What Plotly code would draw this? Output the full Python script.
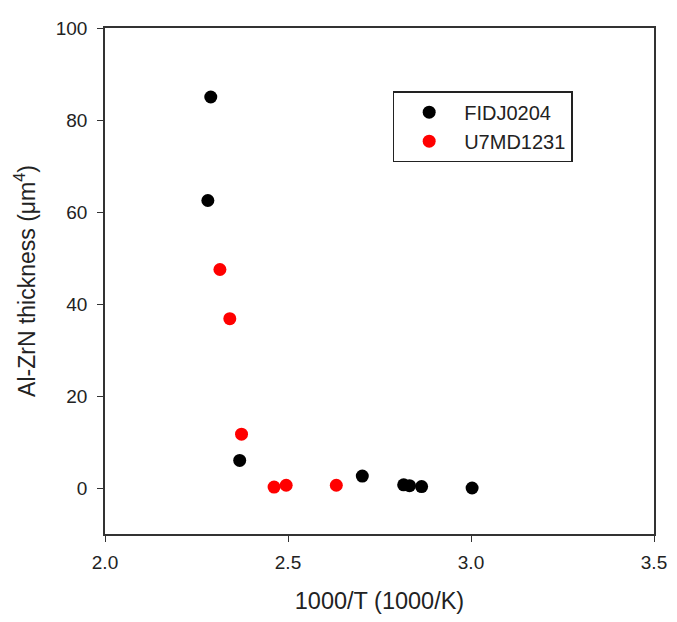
import plotly.graph_objects as go

fidj_x = [2.289, 2.281, 2.368, 2.703, 2.816, 2.832, 2.865, 3.003]
fidj_y = [85.0, 62.5, 6.0, 2.6, 0.7, 0.5, 0.3, 0.0]
u7md_x = [2.314, 2.341, 2.373, 2.462, 2.495, 2.632]
u7md_y = [47.5, 36.8, 11.7, 0.2, 0.6, 0.6]

x_ticks = [2.0, 2.5, 3.0, 3.5]
y_ticks = [0, 20, 40, 60, 80, 100]

font = "Liberation Sans, Arial, sans-serif"

fig = go.Figure()
fig.add_trace(go.Scatter(x=fidj_x, y=fidj_y, mode="markers", name="FIDJ0204",
                         marker=dict(color="black", size=13)))
fig.add_trace(go.Scatter(x=u7md_x, y=u7md_y, mode="markers", name="U7MD1231",
                         marker=dict(color="#ff0000", size=13)))

fig.update_layout(
    width=669, height=614,
    margin=dict(l=97, r=17, t=10, b=88),
    plot_bgcolor="white", paper_bgcolor="white",
    font=dict(family=font, size=19, color="#222"),
    showlegend=True,
    legend=dict(x=0.524, y=0.805, xanchor="left", yanchor="middle",
                bordercolor="#222", borderwidth=1.5, bgcolor="white",
                font=dict(size=20), itemwidth=60, tracegroupgap=0),
    xaxis=dict(range=[2.0, 3.5], tickvals=x_ticks, ticktext=[f"{v:.1f}" for v in x_ticks],
               showgrid=False, zeroline=False, showline=True, linecolor="#333", linewidth=1.5,
               mirror=True, ticks="outside", ticklen=6, tickcolor="#333", ticklabelstandoff=4,
               title=dict(text="1000/T (1000/K)", font=dict(size=23.5), standoff=21)),
    yaxis=dict(range=[-10, 100], tickvals=y_ticks,
               showgrid=False, zeroline=False, showline=True, linecolor="#333", linewidth=1.5,
               mirror=True, ticks="outside", ticklen=6, tickcolor="#333", ticklabelstandoff=6,
               title=dict(text="Al-ZrN thickness (μm<sup>4</sup>)", font=dict(size=23), standoff=14)),
)

fig.write_html("out.html")
